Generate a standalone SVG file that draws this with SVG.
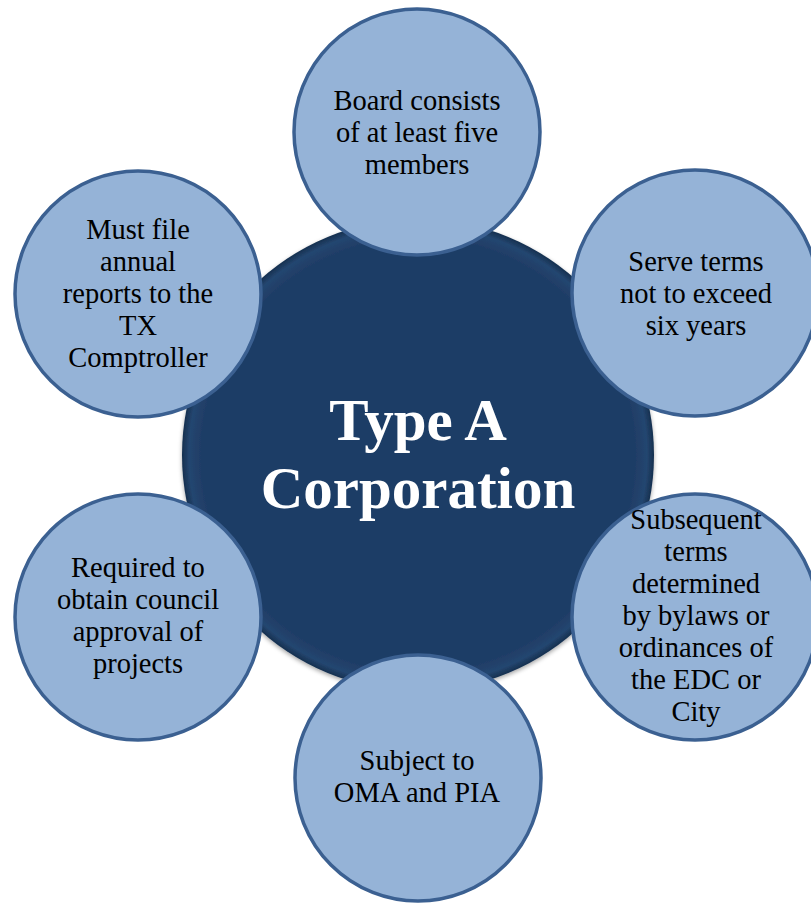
<svg xmlns="http://www.w3.org/2000/svg" width="811" height="903" viewBox="0 0 811 903">
<defs>
<radialGradient id="hubFill" cx="50%" cy="50%" r="50%">
<stop offset="0%" stop-color="#1f3d66"/>
<stop offset="92%" stop-color="#1f3d66"/>
<stop offset="97%" stop-color="#244670"/>
<stop offset="100%" stop-color="#16304f"/>
</radialGradient>
<filter id="soft" x="-10%" y="-10%" width="120%" height="120%">
<feGaussianBlur in="SourceAlpha" stdDeviation="2"/>
<feOffset dx="0" dy="2" result="b"/>
<feFlood flood-color="#000" flood-opacity="0.35"/>
<feComposite in2="b" operator="in"/>
<feMerge><feMergeNode/><feMergeNode in="SourceGraphic"/></feMerge>
</filter>
</defs>
<style>
.sat{fill:#95b3d7;stroke:#3b6091;stroke-width:3.5}
.st{font-family:"Liberation Serif","Times New Roman",serif;font-size:28.5px;fill:#000;text-anchor:middle}
.ht{font-family:"Liberation Serif","Times New Roman",serif;font-size:59px;font-weight:bold;fill:#fff;text-anchor:middle}
</style>
<rect width="811" height="903" fill="#fff"/>
<g id="hub">
<circle cx="418" cy="455" r="236" fill="url(#hubFill)" filter="url(#soft)"/>
<text class="ht" x="418" y="440">Type A</text>
<text class="ht" x="418" y="508">Corporation</text>
</g>
<g id="n-board">
<circle class="sat" cx="417" cy="132" r="123"/>
<text class="st" x="417" y="110">Board consists</text>
<text class="st" x="417" y="142">of at least five</text>
<text class="st" x="417" y="174">members</text>
</g>
<g id="n-terms">
<circle class="sat" cx="695" cy="293" r="123"/>
<text class="st" x="696" y="271">Serve terms</text>
<text class="st" x="696" y="303">not to exceed</text>
<text class="st" x="696" y="335">six years</text>
</g>
<g id="n-subsequent">
<circle class="sat" cx="695" cy="617" r="123"/>
<text class="st" x="696" y="529">Subsequent</text>
<text class="st" x="696" y="561">terms</text>
<text class="st" x="696" y="593">determined</text>
<text class="st" x="696" y="625">by bylaws or</text>
<text class="st" x="696" y="657">ordinances of</text>
<text class="st" x="696" y="689">the EDC or</text>
<text class="st" x="696" y="721">City</text>
</g>
<g id="n-oma">
<circle class="sat" cx="418" cy="778" r="123"/>
<text class="st" x="417" y="770">Subject to</text>
<text class="st" x="417" y="802">OMA and PIA</text>
</g>
<g id="n-council">
<circle class="sat" cx="138" cy="617" r="123"/>
<text class="st" x="138" y="577">Required to</text>
<text class="st" x="138" y="609">obtain council</text>
<text class="st" x="138" y="641">approval of</text>
<text class="st" x="138" y="673">projects</text>
</g>
<g id="n-reports">
<circle class="sat" cx="138" cy="294" r="123"/>
<text class="st" x="138" y="239">Must file</text>
<text class="st" x="138" y="271">annual</text>
<text class="st" x="138" y="303">reports to the</text>
<text class="st" x="138" y="335">TX</text>
<text class="st" x="138" y="367">Comptroller</text>
</g>
</svg>
